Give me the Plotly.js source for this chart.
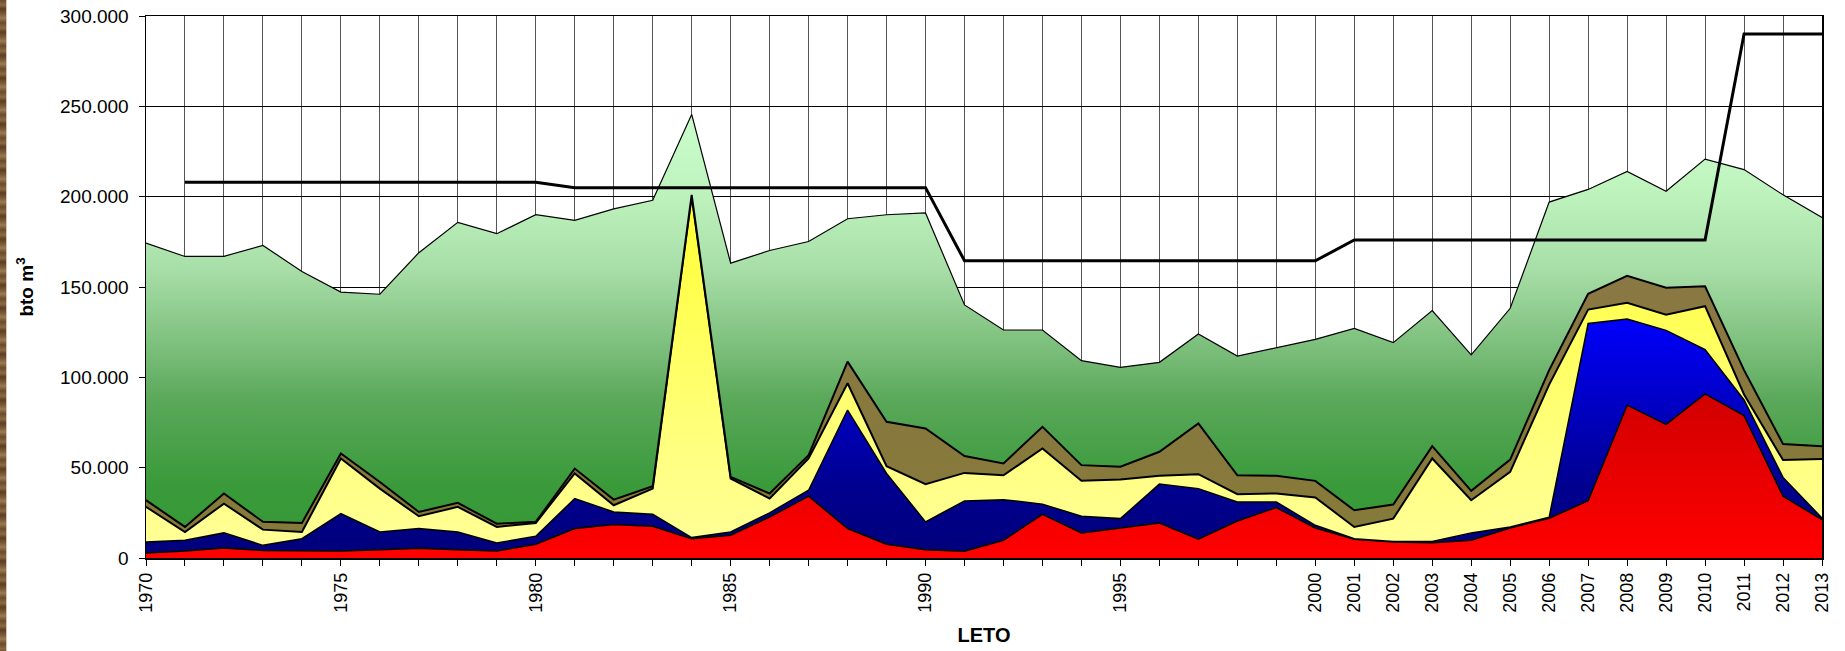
<!DOCTYPE html>
<html><head><meta charset="utf-8">
<script src="https://cdn.plot.ly/plotly-3.0.1.min.js"></script>
<style>
html,body{margin:0;padding:0;background:#fff;}
#chart{position:absolute;left:0;top:0;width:1845px;height:651px;}
#strip{position:absolute;left:0;top:0;width:6px;height:651px;
background:repeating-linear-gradient(180deg,#6e4c2c 0px,#8c6a44 5px,#5c3e22 9px,#7a5a38 14px,#9a7a52 18px,#6a4a2a 23px);
border-right:1px solid #d8c8b0;}
</style></head><body>
<div id="chart"></div><div id="strip"></div>
<script>
// Years (category axis, one per year)
const years = [1970,1971,1972,1973,1974,1975,1976,1977,1978,1979,
  1980,1981,1982,1983,1984,1985,1986,1987,1988,1989,
  1990,1991,1992,1993,1994,1995,1996,1997,1998,1999,
  2000,2001,2002,2003,2004,2005,2006,2007,2008,2009,
  2010,2011,2012,2013];
// Years that carry a tick label
const tickYears = [1970,1975,1980,1985,1990,1995,
  2000,2001,2002,2003,2004,2005,2006,2007,2008,2009,2010,2011,2012,2013];
const tickLabels = tickYears.map(String);

// Stacked layers, thousand m3 (bottom to top)
const red = [2.8,3.9,5.5,4.2,4.0,3.9,4.6,5.4,4.6,3.9,
  7.6,16.3,18.5,17.6,10.7,12.6,22.7,34.2,16.3,7.6,
  4.6,3.7,9.8,24.2,13.9,16.6,19.4,10.4,20.5,27.9,
  16.6,10.4,8.9,8.5,9.8,16.6,22.0,31.7,84.6,74.0,
  90.8,78.8,34.2,21.2];
const blue = [6.1,5.9,8.4,2.8,6.7,20.7,9.8,10.9,9.8,4.4,
  4.4,16.6,7.0,6.6,0.6,1.8,2.3,3.3,65.6,39.2,
  15.4,27.9,22.5,5.6,9.2,5.2,21.5,28.0,10.5,3.1,
  1.5,0.3,0.3,0.7,4.1,0.6,0.5,98.1,47.7,52.0,
  24.6,8.7,10.4,0.9];
const yellow = [19.4,4.6,16.2,8.7,3.7,30.5,24.0,6.8,13.9,8.9,
  7.4,13.9,3.7,14.2,188.9,29.6,7.9,17.6,14.8,4.0,
  20.9,15.5,13.5,30.8,19.6,21.6,4.6,8.0,4.3,4.7,
  15.4,6.5,12.6,45.9,18.1,30.5,73.5,7.7,9.0,8.6,
  24.0,3.0,9.6,32.7];
const olive = [3.7,2.8,5.6,4.3,5.0,2.8,3.7,2.4,2.2,1.8,
  0.6,2.7,3.1,1.3,0.8,0.9,2.8,1.8,12.0,24.6,
  30.8,9.3,6.5,12.0,8.7,7.1,13.3,28.1,10.5,9.8,
  9.2,9.2,7.8,6.8,5.2,6.8,8.0,8.7,14.9,15.0,
  11.0,13.5,8.9,7.1];
const green = [142.3,149.7,131.3,153.0,139.2,89.3,103.9,143.5,155.3,160.5,
  170.0,137.4,160.9,158.3,44.5,118.3,134.5,118.3,79.1,114.6,
  119.3,83.7,73.9,53.6,57.8,55.0,49.5,49.5,66.0,70.8,
  78.3,100.7,89.6,75.1,75.2,83.7,93.0,57.8,57.8,53.4,
  70.4,111.0,137.9,126.6];
// Separate black line, thousand m3
const limit = [null,208,208,208,208,208,208,208,208,208,
  208,205,205,205,205,205,205,205,205,205,
  205,164.5,164.5,164.5,164.5,164.5,164.5,164.5,164.5,164.5,
  164.5,176,176,176,176,176,176,176,176,176,
  176,290,290,290];

const K = 1000;
const m3 = a => a.map(v => v == null ? null : v * K);

function layer(vals, lw, grad) {
  return {
    x: years, y: m3(vals), type: 'scatter', mode: 'lines',
    stackgroup: 'one', line: {color: '#000', width: lw, shape: 'linear'},
    fillgradient: grad, hoverinfo: 'skip'
  };
}
const traces = [
  layer(red, 1.5, {type:'vertical', start:0, stop:100000,
    colorscale:[[0,'#ff0000'],[1,'#cc0000']]}),
  layer(blue, 1.5, {type:'vertical', start:0, stop:135000,
    colorscale:[[0,'#00007a'],[0.3,'#000090'],[1,'#0000ff']]}),
  layer(yellow, 2, {type:'vertical', start:0, stop:200000,
    colorscale:[[0,'#ffff99'],[0.3,'#ffff80'],[1,'#ffff33']]}),
  layer(olive, 2, {type:'vertical', start:0, stop:160000,
    colorscale:[[0,'#857a38'],[1,'#8a7844']]}),
  layer(green, 1.2, {type:'vertical', start:0, stop:250000,
    colorscale:[[0,'#339933'],[0.16,'#3a9a3a'],[0.35,'#5aa85a'],[0.43,'#72b872'],
      [0.64,'#a8dea8'],[0.8,'#bdf2bd'],[1,'#ccffcc']]}),
  {x: years, y: m3(limit), type:'scatter', mode:'lines',
   line:{color:'#000', width:3}, hoverinfo:'skip', connectgaps:false}
];

const font = 'Liberation Sans, Arial, sans-serif';
const layout = {
  width: 1845, height: 651,
  margin: {l:146, r:23, t:16, b:93, pad:0},
  paper_bgcolor: '#fff', plot_bgcolor: '#fff',
  showlegend: false,
  separators: ',.',
  font: {family: font, color: '#000', size: 18},
  xaxis: {
    type: 'linear', range: [1970, 2013],
    tickmode: 'array', tickvals: tickYears, ticktext: tickLabels,
    tickangle: -90, tickfont: {size: 18, family: font, color:'#000'},
    ticks: 'outside', ticklen: 6, tickcolor: '#000', tickwidth: 1,
    showgrid: true, gridcolor: '#555', gridwidth: 1,
    minor: {tickmode: 'linear', tick0: 1970, dtick: 1, showgrid: true,
      gridcolor: '#555', gridwidth: 1, ticks: 'outside', ticklen: 6, tickcolor: '#000', tickwidth: 1},
    showline: true, linecolor: '#000', linewidth: 1.5, mirror: true,
    zeroline: false, automargin: false,
    title: {text: '<b>LETO</b>', font: {size: 20, family: font, color:'#000'}, standoff: 16}
  },
  yaxis: {
    range: [0, 300000], dtick: 50000, tick0: 0, tickformat: ',d',
    tickfont: {size: 19, family: font, color:'#000'},
    ticks: 'outside', ticklen: 6, tickcolor: '#000', tickwidth: 1,
    ticklabelstandoff: 6,
    showgrid: true, gridcolor: '#000', gridwidth: 1,
    showline: true, linecolor: '#000', linewidth: 1.5, mirror: true,
    zeroline: false, automargin: false,
    title: {text: '<b>bto m<sup>3</sup></b>', font: {size: 19, family: font, color:'#000'}, standoff: 21}
  }
};
Plotly.newPlot('chart', traces, layout, {staticPlot: true, displayModeBar: false});
</script>
</body></html>
